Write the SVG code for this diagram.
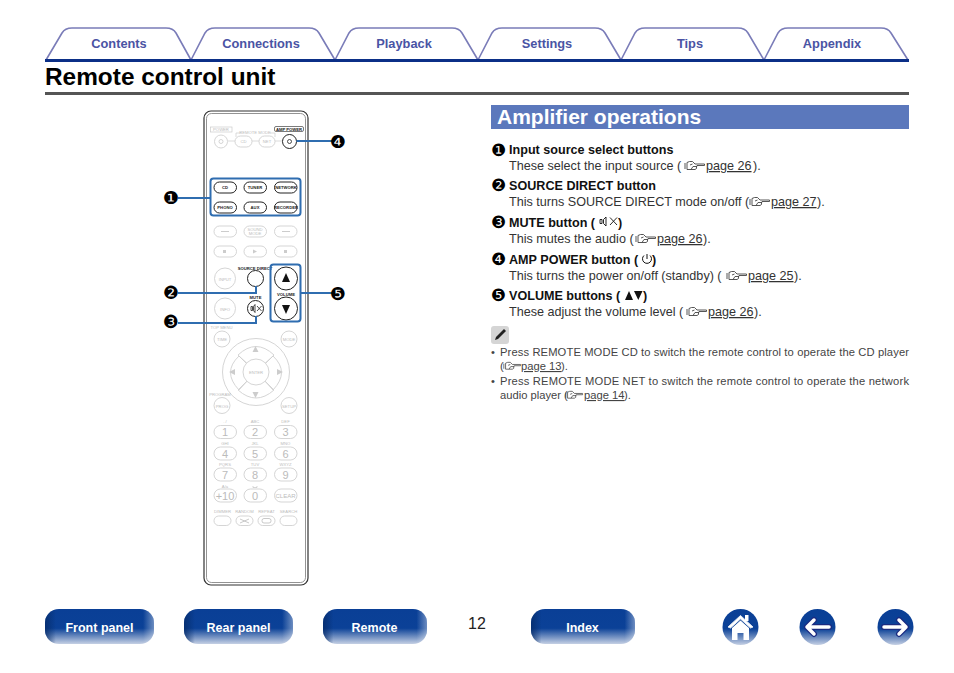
<svg xmlns="http://www.w3.org/2000/svg" xmlns:xlink="http://www.w3.org/1999/xlink" width="954" height="673" viewBox="0 0 954 673">
<style>
text{font-family:"Liberation Sans",Arial,sans-serif}
.tab{fill:#fff;stroke:#7a7cb8;stroke-width:1.6}
.tt{font-size:12.8px;font-weight:bold;fill:#4a54a4;text-anchor:middle}
.b{font-size:12.6px;font-weight:bold;fill:#111}
.t{font-size:12.6px;fill:#333}
.u{text-decoration:underline}
.n{font-size:11.2px;fill:#444}
.num{font-family:"DejaVu Sans",sans-serif;font-size:18px;fill:#000;text-anchor:middle}
.inum{font-size:17px}
.f{fill:#fff;stroke:#d0d0d0;stroke-width:.9}
.a{fill:#fff;stroke:#222;stroke-width:1}
.fl{font-size:4.2px;fill:#bcbcbc;text-anchor:middle}
.al{font-size:4.2px;font-weight:bold;fill:#222;text-anchor:middle}
.dg{font-size:11px;fill:#bbb;text-anchor:middle}
.box{fill:none;stroke:#2f6db0;stroke-width:2}
.cn{fill:none;stroke:#2f6db0;stroke-width:2}
.btxt{font-size:12.5px;font-weight:bold;fill:#fff;text-anchor:middle}
</style>
<defs>
<linearGradient id="v" x1="0" y1="0" x2="0" y2="1"><stop offset="0" stop-color="#0a3f96"/><stop offset=".55" stop-color="#0b4197"/><stop offset="1" stop-color="#c5d0e4"/></linearGradient>
<linearGradient id="h" x1="0" y1="0" x2="1" y2="0"><stop offset="0" stop-color="#052a66" stop-opacity=".75"/><stop offset=".1" stop-color="#052a66" stop-opacity="0"/><stop offset=".9" stop-color="#fff" stop-opacity="0"/><stop offset="1" stop-color="#fff" stop-opacity=".4"/></linearGradient>
<symbol id="hand" viewBox="0 0 21 11" width="21" height="11" overflow="visible">
<path d="M1 3V9M3 2.500V9.500H11L12.500 8.500V7L13 5.500H20.500V4H11L8.500 1.500H5.500ZM6 5L8.500 4M7 9.500L9 6.500H13" fill="none" stroke="#444" stroke-width=".9"/>
</symbol>
</defs>
<rect width="954" height="673" fill="#fff"/>

<g id="tabs">
<g id="tab-contents"><path class="tab" d="M46 60L62 33Q65 28 72 28H166Q173 28 176 33L191 60"/><text class="tt" x="119" y="48">Contents</text></g>
<g id="tab-connections"><path class="tab" d="M191 60L205 33Q208 28 215 28H309Q316 28 319 33L335 60"/><text class="tt" x="261" y="48">Connections</text></g>
<g id="tab-playback"><path class="tab" d="M335 60L349 33Q352 28 359 28H452Q459 28 462 33L478 60"/><text class="tt" x="404" y="48">Playback</text></g>
<g id="tab-settings"><path class="tab" d="M478 60L492 33Q495 28 502 28H595Q602 28 605 33L621 60"/><text class="tt" x="547" y="48">Settings</text></g>
<g id="tab-tips"><path class="tab" d="M621 60L635 33Q638 28 645 28H738Q745 28 748 33L764 60"/><text class="tt" x="690" y="48">Tips</text></g>
<g id="tab-appendix"><path class="tab" d="M764 60L778 33Q781 28 788 28H881Q888 28 891 33L908 60"/><text class="tt" x="832" y="48">Appendix</text></g>
</g>
<rect x="45" y="59" width="864" height="3" fill="#0b2f87"/>
<text x="45" y="85" font-size="24.4" font-weight="bold" fill="#000">Remote control unit</text>
<rect x="45" y="92" width="864" height="3" fill="#555"/>

<g id="remote">
<rect x="204" y="111" width="104" height="474" rx="7" fill="#fff" stroke="#333" stroke-width="1.2"/>
<rect x="206.500" y="113.500" width="99" height="469" rx="5" fill="none" stroke="#777" stroke-width=".8"/>
<rect x="210.500" y="127" width="21.500" height="5" fill="none" stroke="#ccc" stroke-width=".7"/>
<text class="fl" x="221" y="131">POWER</text>
<text class="fl" x="255" y="133.500">REMOTE MODE</text>
<path d="M241 133H236V137M270 133H275V137M228 141H235M252 141H259M275 141H282" fill="none" stroke="#ccc" stroke-width=".7"/>
<circle class="f" cx="221" cy="141.500" r="6.500"/><circle class="f" cx="221" cy="141.500" r="2"/>
<rect class="f" x="235" y="136" width="17" height="11" rx="5.500"/><text class="fl" x="243.500" y="143">CD</text>
<rect class="f" x="259" y="136" width="16" height="11" rx="5.500"/><text class="fl" x="267" y="143">NET</text>
<text class="al" x="289" y="130.500">AMP POWER</text>
<rect x="274.500" y="126.500" width="29" height="5" rx="1.500" fill="none" stroke="#222" stroke-width=".6"/>
<circle class="a" cx="289.500" cy="141.500" r="7"/><circle cx="289.500" cy="141.500" r="2" fill="none" stroke="#222" stroke-width=".8"/>

<rect class="a" x="214" y="182" width="22.500" height="11" rx="5.500"/><text class="al" x="225" y="189">CD</text>
<rect class="a" x="244" y="182" width="22.500" height="11" rx="5.500"/><text class="al" x="255" y="189">TUNER</text>
<rect class="a" x="274.500" y="182" width="22.500" height="11" rx="5.500"/><text class="al" x="286" y="189">NETWORK</text>
<rect class="a" x="214" y="202" width="22.500" height="11" rx="5.500"/><text class="al" x="225" y="209">PHONO</text>
<rect class="a" x="244" y="202" width="22.500" height="11" rx="5.500"/><text class="al" x="255" y="209">AUX</text>
<rect class="a" x="274.500" y="202" width="22.500" height="11" rx="5.500"/><text class="al" x="286" y="209">RECORDER</text>

<rect class="f" x="214" y="226" width="22.500" height="11" rx="5.500"/><path d="M221 231.500h8" stroke="#ccc"/>
<rect class="f" x="244" y="226" width="22.500" height="11" rx="5.500"/><text class="fl" x="255" y="230.500">SOUND</text><text class="fl" x="255" y="235">MODE</text>
<rect class="f" x="274.500" y="226" width="22.500" height="11" rx="5.500"/><path d="M282 231.500h8" stroke="#ccc"/>
<rect class="f" x="214" y="246" width="22.500" height="11" rx="5.500"/><rect x="223" y="250" width="3" height="3" fill="#ccc"/>
<rect class="f" x="244" y="246" width="22.500" height="11" rx="5.500"/><path d="M253 249.500l4 2-4 2z" fill="#ccc"/>
<rect class="f" x="274.500" y="246" width="22.500" height="11" rx="5.500"/><rect x="284" y="250" width="3" height="3" fill="#ccc"/>

<text class="al" x="255" y="269.500">SOURCE DIRECT</text>
<circle class="f" cx="225" cy="278.500" r="10.500"/><text class="fl" x="225" y="280.500">INPUT</text>
<circle class="a" cx="255.500" cy="278.500" r="8"/>
<circle class="a" cx="286" cy="278.500" r="11.500"/><path d="M286 273l4 9h-8z" fill="#111"/>
<text class="al" x="286" y="296">VOLUME</text>
<circle class="a" cx="286" cy="308.500" r="11.500"/><path d="M286 314l4-9h-8z" fill="#111"/>
<circle class="f" cx="225" cy="308.500" r="10.500"/><text class="fl" x="225" y="310.500">INFO</text>
<text class="al" x="255.500" y="299">MUTE</text>
<circle class="a" cx="255.500" cy="308.500" r="8"/><path d="M251 306.500h1.500v4H251zM253.500 306.500l1.500-2v8l-1.500-2zM257 306l4.500 5M261.500 306l-4.500 5" fill="none" stroke="#222" stroke-width=".8"/>

<text class="fl" x="221.500" y="328.500">TOP MENU</text>
<circle class="f" cx="222" cy="339" r="8"/><text class="fl" x="222" y="341">TIME</text>
<circle class="f" cx="289" cy="339" r="8"/><text class="fl" x="289" y="341">MODE</text>
<circle class="f" cx="256" cy="372" r="33.500"/>
<path class="f" d="M238 355Q256 338 274 355L263 366Q256 360 249 366ZM273 356Q290 372 273 390L262 378Q267 372 262 366ZM238 390Q256 406 274 390L263 379Q256 384 249 379ZM239 356Q222 372 239 390L250 378Q245 372 250 366Z"/>
<circle class="f" cx="256" cy="372" r="13"/><text class="fl" x="256" y="374">ENTER</text>
<path d="M255.500 346l3 6h-6zM255.500 398l3-6h-6zM229 372l6-3v6zM283 372l-6-3v6z" fill="#ccc"/>
<text class="fl" x="220" y="395.500">PROGRAM</text>
<circle class="f" cx="222" cy="405.500" r="8"/><text class="fl" x="222" y="407.500">PROG</text>
<circle class="f" cx="289" cy="405.500" r="8"/><text class="fl" x="289" y="407.500">SETUP</text>

<text class="fl" x="225" y="423">. /</text><text class="fl" x="255" y="423">ABC</text><text class="fl" x="285.500" y="423">DEF</text>
<rect class="f" x="214" y="425.500" width="22.500" height="13" rx="6.500"/><text class="dg" x="225" y="436">1</text>
<rect class="f" x="244" y="425.500" width="22.500" height="13" rx="6.500"/><text class="dg" x="255" y="436">2</text>
<rect class="f" x="274.500" y="425.500" width="22.500" height="13" rx="6.500"/><text class="dg" x="285.500" y="436">3</text>
<text class="fl" x="225" y="445">GHI</text><text class="fl" x="255" y="445">JKL</text><text class="fl" x="285.500" y="445">MNO</text>
<rect class="f" x="214" y="447" width="22.500" height="13" rx="6.500"/><text class="dg" x="225" y="457.500">4</text>
<rect class="f" x="244" y="447" width="22.500" height="13" rx="6.500"/><text class="dg" x="255" y="457.500">5</text>
<rect class="f" x="274.500" y="447" width="22.500" height="13" rx="6.500"/><text class="dg" x="285.500" y="457.500">6</text>
<text class="fl" x="225" y="466">PQRS</text><text class="fl" x="255" y="466">TUV</text><text class="fl" x="285.500" y="466">WXYZ</text>
<rect class="f" x="214" y="468" width="22.500" height="13" rx="6.500"/><text class="dg" x="225" y="478.500">7</text>
<rect class="f" x="244" y="468" width="22.500" height="13" rx="6.500"/><text class="dg" x="255" y="478.500">8</text>
<rect class="f" x="274.500" y="468" width="22.500" height="13" rx="6.500"/><text class="dg" x="285.500" y="478.500">9</text>
<text class="fl" x="225" y="487.500">A/a</text><path d="M253 486v1.500h4V486" fill="none" stroke="#bbb" stroke-width=".6"/>
<rect class="f" x="214" y="489" width="22.500" height="13" rx="6.500"/><text class="dg" x="225" y="499.500">+10</text>
<rect class="f" x="244" y="489" width="22.500" height="13" rx="6.500"/><text class="dg" x="255" y="499.500">0</text>
<rect class="f" x="274.500" y="489" width="22.500" height="13" rx="6.500"/><text x="285.500" y="497.500" class="fl" style="font-size:6px">CLEAR</text>
<text class="fl" x="222.500" y="513">DIMMER</text><text class="fl" x="244.500" y="513">RANDOM</text><text class="fl" x="266.500" y="513">REPEAT</text><text class="fl" x="288.500" y="513">SEARCH</text>
<rect class="f" x="214" y="516" width="17" height="9.500" rx="4.700"/>
<rect class="f" x="236" y="516" width="17" height="9.500" rx="4.700"/><path d="M240 519l9 4M240 523l9-4" stroke="#bbb" stroke-width=".8"/>
<rect class="f" x="258" y="516" width="17" height="9.500" rx="4.700"/><rect x="262" y="518.500" width="9" height="4.500" rx="2" fill="none" stroke="#bbb" stroke-width=".8"/>
<rect class="f" x="280" y="516" width="17" height="9.500" rx="4.700"/>
</g>

<g id="connectors">
<path class="cn" d="M178 198H210"/>
<path class="cn" d="M178 293H256V286"/>
<path class="cn" d="M178 323H256V316"/>
<path class="cn" d="M296.500 141H332"/>
<path class="cn" d="M300 293H332"/>
<rect class="box" x="210.500" y="178.500" width="90" height="37" rx="3"/>
<rect class="box" x="270.500" y="264.500" width="30" height="57" rx="3"/>
</g>
<g id="callout-1"><text class="num" x="171" y="203.500">❶</text></g>
<g id="callout-2"><text class="num" x="171" y="298.500">❷</text></g>
<g id="callout-3"><text class="num" x="171" y="327.500">❸</text></g>
<g id="callout-4"><text class="num" x="338" y="147.500">❹</text></g>
<g id="callout-5"><text class="num" x="338" y="299.500">❺</text></g>

<g id="amplifier-heading"><rect x="491" y="105" width="418" height="24" fill="#5b78bc"/><text x="497" y="123.500" font-size="21" font-weight="bold" fill="#fff">Amplifier operations</text></g>

<g id="item-1"><text class="num inum" x="498.500" y="156">❶</text><text class="b" x="509" y="154">Input source select buttons</text>
<text class="t" x="509" y="170">These select the input source (</text><use xlink:href="#hand" x="684" y="160"/><text class="t u" x="706" y="170">page 26</text><text class="t" x="753" y="170">).</text></g>
<g id="item-2"><text class="num inum" x="498.500" y="191">❷</text><text class="b" x="509" y="190">SOURCE DIRECT button</text>
<text class="t" x="509" y="206">This turns SOURCE DIRECT mode on/off (</text><use xlink:href="#hand" x="749" y="196"/><text class="t u" x="771" y="206">page 27</text><text class="t" x="817" y="206">).</text></g>
<g id="item-3"><text class="num inum" x="498.500" y="228">❸</text><text class="b" x="509" y="227">MUTE button (</text><path d="M600 219.500h2v4h-2zM603.500 219.500l2.500-2.500v9l-2.500-2.500zM610 217.500l7 7.500M617 217.500l-7 7.500" fill="none" stroke="#111" stroke-width=".9"/><text class="b" x="618" y="227">)</text>
<text class="t" x="509" y="243">This mutes the audio (</text><use xlink:href="#hand" x="635" y="233"/><text class="t u" x="657" y="243">page 26</text><text class="t" x="703" y="243">).</text></g>
<g id="item-4"><text class="num inum" x="498.500" y="265">❹</text><text class="b" x="509" y="264">AMP POWER button (</text><path d="M647 254v5M644 255.500a4.500 4.500 0 1 0 6 0" fill="none" stroke="#111" stroke-width="1"/><text class="b" x="652" y="264">)</text>
<text class="t" x="509" y="280">This turns the power on/off (standby) (</text><use xlink:href="#hand" x="726" y="270"/><text class="t u" x="748" y="280">page 25</text><text class="t" x="794" y="280">).</text></g>
<g id="item-5"><text class="num inum" x="498.500" y="301">❺</text><text class="b" x="509" y="300">VOLUME buttons (</text><path d="M629 291l4 9h-8zM634 291h8.500l-4.200 9z" fill="#111"/><text class="b" x="643" y="300">)</text>
<text class="t" x="509" y="316">These adjust the volume level (</text><use xlink:href="#hand" x="686" y="306"/><text class="t u" x="708" y="316">page 26</text><text class="t" x="754" y="316">).</text></g>

<g id="note">
<rect x="491" y="326" width="18" height="18" rx="3" fill="#d5d5d5"/><path d="M495 340l3-1 8-8-2-2-8 8z" fill="#222"/>
<text class="n" x="491" y="356">•</text><text class="n" x="500" y="356" textLength="409">Press REMOTE MODE CD to switch the remote control to operate the CD player</text>
<text class="n" x="500" y="370">(</text><use xlink:href="#hand" x="503" y="361" width="18" height="9.500"/><text class="n u" x="521" y="370">page 13</text><text class="n" x="561" y="370">).</text>
<text class="n" x="491" y="385">•</text><text class="n" x="500" y="385" textLength="409">Press REMOTE MODE NET to switch the remote control to operate the network</text>
<text class="n" x="500" y="399">audio player (</text><use xlink:href="#hand" x="565" y="390" width="18" height="9.500"/><text class="n u" x="584" y="399">page 14</text><text class="n" x="624" y="399">).</text>
</g>

<g id="btn-front"><rect x="45" y="609" width="109" height="35" rx="14" fill="url(#v)"/><rect x="45" y="609" width="109" height="35" rx="14" fill="url(#h)"/><text class="btxt" x="99.500" y="632">Front panel</text></g>
<g id="btn-rear"><rect x="184" y="609" width="109" height="35" rx="14" fill="url(#v)"/><rect x="184" y="609" width="109" height="35" rx="14" fill="url(#h)"/><text class="btxt" x="238.500" y="632">Rear panel</text></g>
<g id="btn-remote"><rect x="323" y="609" width="104" height="35" rx="14" fill="url(#v)"/><rect x="323" y="609" width="104" height="35" rx="14" fill="url(#h)"/><text class="btxt" x="374.500" y="632">Remote</text></g>
<g id="btn-index"><rect x="531" y="609" width="104" height="35" rx="14" fill="url(#v)"/><rect x="531" y="609" width="104" height="35" rx="14" fill="url(#h)"/><text class="btxt" x="582.500" y="632">Index</text></g>
<text x="477" y="629" font-size="16" fill="#222" text-anchor="middle">12</text>

<g id="btn-home"><circle cx="740.500" cy="627" r="18" fill="url(#v)"/><path d="M728 627L740.500 615.500L753 627L750.500 628L740.500 619L730.500 628Z" fill="#fff" stroke="#dfe6f2" stroke-width="1"/><path d="M732 628L740.500 620.500L749 628V640H743.500V633H737.500V640H732Z" fill="#fff"/><rect x="745" y="615" width="3.500" height="6" fill="#fff"/></g>
<g id="btn-back"><circle cx="817.500" cy="627" r="18" fill="url(#v)"/><path d="M807 627H829M814 620L807 627L814 634" fill="none" stroke="#1a2a80" stroke-width="6" stroke-linecap="round" stroke-linejoin="round"/><path d="M807 627H829M814 620L807 627L814 634" fill="none" stroke="#fff" stroke-width="3.500" stroke-linecap="round" stroke-linejoin="round"/></g>
<g id="btn-next"><circle cx="895.500" cy="627" r="18" fill="url(#v)"/><path d="M906 627H884M899 620L906 627L899 634" fill="none" stroke="#1a2a80" stroke-width="6" stroke-linecap="round" stroke-linejoin="round"/><path d="M906 627H884M899 620L906 627L899 634" fill="none" stroke="#fff" stroke-width="3.500" stroke-linecap="round" stroke-linejoin="round"/></g>
</svg>
